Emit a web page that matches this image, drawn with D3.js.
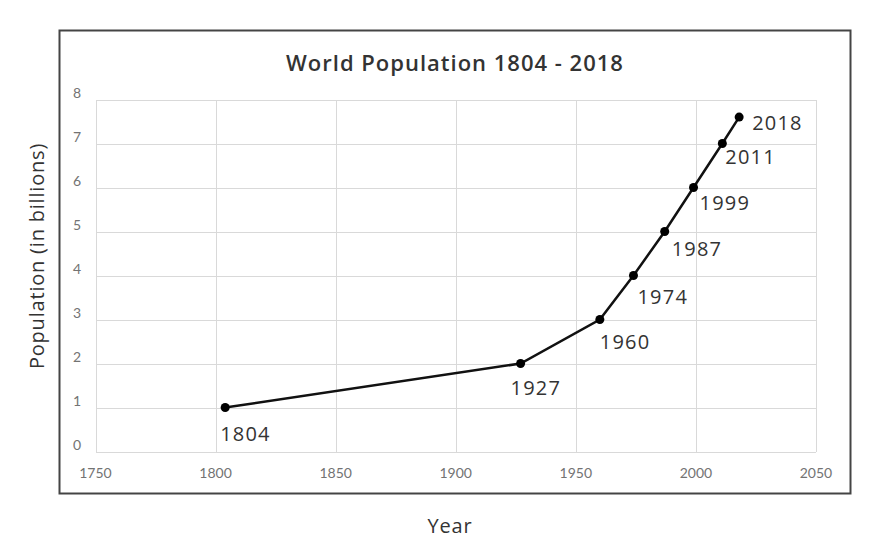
<!DOCTYPE html>
<html>
<head>
<meta charset="utf-8">
<script src="https://cdn.jsdelivr.net/npm/d3@7"></script>
<style>
  body { margin: 0; background: #fff; }
  svg { display: block; font-family: "Open Sans", "Noto Sans", sans-serif; }
  .grid line { stroke: #d9d9d9; stroke-width: 1; shape-rendering: crispEdges; }
  .tick-label { fill: #737373; font-family: Lato, "Open Sans", sans-serif; font-size: 14px; }
</style>
</head>
<body>
<svg id="chart" width="880" height="554"></svg>
<script>
// data
var years = [1804, 1927, 1960, 1974, 1987, 1999, 2011, 2018];
var population = [1, 2, 3, 4, 5, 6, 7, 7.6];
var xTicks = [1750, 1800, 1850, 1900, 1950, 2000, 2050];
var yTicks = [0, 1, 2, 3, 4, 5, 6, 7, 8];

var points = years.map(function(d, i) { return { year: d, pop: population[i] }; });

var svg = d3.select("#chart");

// label placement relative to its point (text start, baseline)
var labelOffset = {
  1804: [-5, 33], 1927: [-10, 31], 1960: [0, 29], 1974: [4, 28],
  1987: [7, 24], 1999: [6, 22], 2011: [3, 20], 2018: [13, 13]
};

var x = d3.scaleLinear().domain([1750, 2050]).range([95.5, 816]);
var y = d3.scaleLinear().domain([0, 8]).range([451.5, 99.5]);

// outer frame
svg.append("rect")
    .attr("x", 59.5).attr("y", 30.5)
    .attr("width", 791).attr("height", 463)
    .attr("fill", "none")
    .attr("stroke", "#444")
    .attr("stroke-width", 2);

// grid
var grid = svg.append("g").attr("class", "grid");
grid.selectAll("line.v").data(xTicks).enter().append("line")
    .attr("class", "v")
    .attr("x1", function(d) { return Math.round(x(d)) + 0.5; })
    .attr("x2", function(d) { return Math.round(x(d)) + 0.5; })
    .attr("y1", y(8)).attr("y2", y(0));
grid.selectAll("line.h").data(yTicks).enter().append("line")
    .attr("class", "h")
    .attr("y1", function(d) { return Math.round(y(d)) + 0.5; })
    .attr("y2", function(d) { return Math.round(y(d)) + 0.5; })
    .attr("x1", x(1750)).attr("x2", x(2050));

// tick labels
svg.append("g").selectAll("text").data(xTicks).enter().append("text")
    .attr("class", "tick-label")
    .attr("x", function(d) { return x(d); })
    .attr("y", 478)
    .attr("text-anchor", "middle")
    .text(function(d) { return d; });

svg.append("g").selectAll("text").data(yTicks).enter().append("text")
    .attr("class", "tick-label")
    .attr("x", 81)
    .attr("y", function(d) { return y(d) - 2; })
    .attr("text-anchor", "end")
    .text(function(d) { return d; });

// title
svg.append("text")
    .attr("x", 455).attr("y", 71)
    .attr("text-anchor", "middle")
    .style("font-size", "22px")
    .style("font-weight", 600)
    .style("letter-spacing", "1px")
    .style("fill", "#333")
    .text("World Population 1804 - 2018");

// axis titles
svg.append("text")
    .attr("x", 450).attr("y", 533)
    .attr("text-anchor", "middle")
    .style("font-size", "20px")
    .style("letter-spacing", "0.8px")
    .style("fill", "#333")
    .text("Year");

svg.append("text")
    .attr("transform", "translate(44,256) rotate(-90)")
    .attr("text-anchor", "middle")
    .style("font-size", "20px")
    .style("letter-spacing", "0.8px")
    .style("fill", "#333")
    .text("Population (in billions)");

// line
var line = d3.line()
    .x(function(d) { return x(d.year); })
    .y(function(d) { return y(d.pop); });

svg.append("path")
    .datum(points)
    .attr("d", line)
    .attr("fill", "none")
    .attr("stroke", "#111")
    .attr("stroke-width", 2.5);

svg.append("g").selectAll("circle").data(points).enter().append("circle")
    .attr("cx", function(d) { return x(d.year); })
    .attr("cy", function(d) { return y(d.pop); })
    .attr("r", 4.5)
    .attr("fill", "#000");

// data labels
svg.append("g").selectAll("text").data(points).enter().append("text")
    .attr("x", function(d) { return x(d.year) + labelOffset[d.year][0]; })
    .attr("y", function(d) { return y(d.pop) + labelOffset[d.year][1]; })
    .style("font-size", "20px")
    .style("fill", "#333")
    .style("letter-spacing", "1.2px")
    .text(function(d) { return d.year; });
</script>
</body>
</html>
